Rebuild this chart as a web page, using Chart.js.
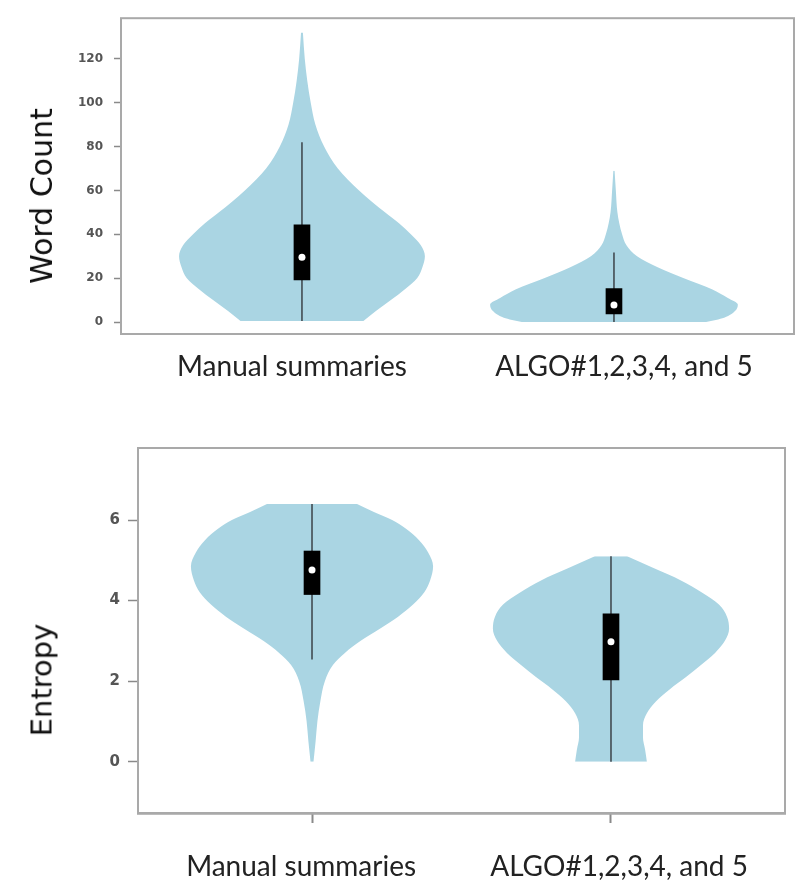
<!DOCTYPE html>
<html>
<head>
<meta charset="utf-8">
<script src="https://cdn.jsdelivr.net/npm/chart.js@4/dist/chart.umd.min.js"></script>
<style>
  body { margin: 0; background: #fff; }
  #page { position: relative; width: 805px; height: 882px; overflow: hidden; }
  .panel { position: absolute; left: 0; width: 805px; }
  #topPanel { top: 0; height: 400px; }
  #bottomPanel { top: 430px; height: 452px; }
  .ytitle {
    position: absolute;
    transform: translate(-50%, -50%) rotate(-90deg);
    font-family: 'DejaVu Sans', sans-serif;
    line-height: 1;
    color: #111;
    white-space: nowrap;
  }
</style>
</head>
<body>
<div id="page">
  <div class="panel" id="topPanel"><canvas id="wordCountChart"></canvas></div>
  <div class="panel" id="bottomPanel"><canvas id="entropyChart"></canvas></div>
  <div class="ytitle" style="left:42px; top:196px; font-size:30px;">Word Count</div>
  <div class="ytitle" style="left:42px; top:680px; font-size:29px;">Entropy</div>
</div>
<script>
const categories = ['Manual summaries', 'ALGO#1,2,3,4, and 5'];

// word count: violin outline as half-width (share of category spacing) at each level
const wcManualLevels = [0.5, 5, 10, 15, 20, 25, 30, 35, 40, 45, 50, 60, 70, 80, 90, 100, 110, 120, 132];
const wcManualHalfWidth = [0.197, 0.237, 0.285, 0.330, 0.369, 0.386, 0.394, 0.381, 0.349, 0.311, 0.266, 0.183, 0.115, 0.071, 0.043, 0.028, 0.017, 0.009, 0.003];
const wcAlgoLevels = [0, 2, 5, 8, 11, 15, 20, 25, 30, 35, 40, 45, 50, 60, 69];
const wcAlgoHalfWidth = [0.295, 0.353, 0.388, 0.397, 0.365, 0.314, 0.224, 0.140, 0.074, 0.040, 0.026, 0.017, 0.011, 0.006, 0.002];
const wcQ1 = [19.2, 3.7];
const wcQ3 = [44.3, 15.2];
const wcMedian = [29.5, 7.8];
const wcWhiskerLow = [0.5, 0];
const wcWhiskerHigh = [81.9, 31.7];
const wcTicks = [0, 20, 40, 60, 80, 100, 120];

// entropy
const enManualLevels = [0, 0.5, 1.0, 1.5, 2.0, 2.4, 2.7, 3.0, 3.3, 3.6, 3.9, 4.2, 4.5, 4.85, 5.2, 5.5, 5.8, 6.0, 6.2, 6.4];
const enManualHalfWidth = [0.005, 0.012, 0.018, 0.028, 0.043, 0.070, 0.110, 0.163, 0.227, 0.288, 0.338, 0.375, 0.395, 0.405, 0.388, 0.358, 0.311, 0.268, 0.207, 0.150];
const enAlgoLevels = [0, 0.3, 0.6, 0.9, 1.2, 1.5, 1.8, 2.1, 2.4, 2.7, 3.0, 3.3, 3.6, 3.9, 4.2, 4.5, 4.8, 5.1];
const enAlgoHalfWidth = [0.120, 0.114, 0.107, 0.107, 0.120, 0.151, 0.197, 0.251, 0.301, 0.348, 0.381, 0.395, 0.388, 0.361, 0.304, 0.234, 0.144, 0.054];
const enQ1 = [4.15, 2.03];
const enQ3 = [5.23, 3.67];
const enMedian = [4.76, 2.98];
const enWhiskerLow = [2.54, 0];
const enWhiskerHigh = [6.4, 5.1];
const enTicks = [0, 2, 4, 6];

const violinColor = '#aad5e3';
const frameColor = '#a9a9a9';

const framePlugin = {
  id: 'frame',
  afterDatasetsDraw(chart, args, opts) {
    const { ctx, chartArea: a } = chart;
    ctx.save();
    ctx.strokeStyle = opts.color || frameColor;
    ctx.lineWidth = opts.width || 2;
    ctx.strokeRect(a.left, a.top, a.right - a.left, a.bottom - a.top);
    ctx.restore();
  },
};

const buildDatasets = (violins, q1, q3, median, low, high) => {
  const sets = [];

  violins.forEach(([levels, widths], i) => {
    const c = i + 1;
    const edge = (sign) => levels.map((y, k) => ({ x: c + sign * widths[k], y }));
    const common = {
      type: 'line',
      indexAxis: 'y',
      pointRadius: 0,
      borderWidth: 0,
      borderColor: 'rgba(0,0,0,0)',
      cubicInterpolationMode: 'monotone',
      order: 4,
    };
    sets.push({ ...common, data: edge(-1), fill: false });
    sets.push({ ...common, data: edge(1), fill: '-1', backgroundColor: violinColor });
  });

  categories.forEach((_, i) => {
    sets.push({
      type: 'line',
      data: [{ x: i + 1, y: low[i] }, { x: i + 1, y: high[i] }],
      borderColor: '#3b4248',
      borderWidth: 1.5,
      pointRadius: 0,
      fill: false,
      order: 3,
    });
  });

  sets.push({
    type: 'bar',
    data: categories.map((_, i) => ({ x: i + 1, y: [q1[i], q3[i]] })),
    backgroundColor: '#000',
    borderWidth: 0,
    barThickness: 16,
    order: 2,
  });

  sets.push({
    type: 'scatter',
    data: categories.map((_, i) => ({ x: i + 1, y: median[i] })),
    pointRadius: 3.5,
    pointBackgroundColor: '#fff',
    pointBorderWidth: 0,
    showLine: false,
    order: 1,
  });

  return sets;
};

const categoryTicks = (axis) => { axis.ticks = categories.map((_, i) => ({ value: i + 1 })); };

const makeChart = (canvasId, cfg) => {
  return new Chart(document.getElementById(canvasId), {
    type: 'line',
    data: { datasets: buildDatasets(cfg.violins, cfg.q1, cfg.q3, cfg.median, cfg.low, cfg.high) },
    options: {
      responsive: true,
      maintainAspectRatio: false,
      animation: false,
      layout: { padding: cfg.padding },
      plugins: {
        legend: { display: false },
        tooltip: { enabled: false },
        frame: { color: frameColor, width: 2 },
      },
      scales: {
        x: {
          type: 'linear',
          display: cfg.xTickMarks,
          weight: 0,
          offset: false,
          min: cfg.xMin,
          max: cfg.xMax,
          afterBuildTicks: categoryTicks,
          afterFit: (axis) => { axis.height = cfg.xTickMarks ? 10 : 0; },
          border: { display: true, color: '#7a7a7a', width: 2.5 },
          grid: { offset: false, drawOnChartArea: false, drawTicks: true, tickLength: 10, tickColor: '#8a8a8a', tickWidth: 2 },
          ticks: { display: false },
        },
        // category names sit a little outside the violin centres
        xl: {
          type: 'linear',
          position: 'bottom',
          weight: 1,
          offset: false,
          min: cfg.labelMin,
          max: cfg.labelMax,
          afterBuildTicks: categoryTicks,
          afterFit: (axis) => { axis.height = cfg.labelHeight; },
          border: { display: false },
          grid: { display: false, drawTicks: false, offset: false },
          ticks: {
            autoSkip: false,
            maxRotation: 0,
            padding: cfg.labelPadding,
            color: '#222',
            font: { family: 'Lato', size: 28 },
            callback: (value, index) => categories[index],
          },
        },
        y: {
          type: 'linear',
          offset: false,
          min: cfg.yMin,
          max: cfg.yMax,
          afterBuildTicks: (axis) => { axis.ticks = cfg.yTicks.map((v) => ({ value: v })); },
          afterFit: (axis) => { axis.width = cfg.yWidth; },
          border: { display: false },
          grid: {
            offset: false,
            drawOnChartArea: false,
            drawTicks: true,
            tickLength: cfg.yTickLength,
            tickColor: '#8a8a8a',
            tickWidth: 1.5,
          },
          ticks: {
            padding: cfg.yPadding,
            color: '#555',
            font: { family: 'DejaVu Sans', size: cfg.yFontSize, weight: 'bold' },
            callback: (value) => String(value),
          },
        },
      },
    },
    plugins: [framePlugin],
  });
};

makeChart('wordCountChart', {
  violins: [[wcManualLevels, wcManualHalfWidth], [wcAlgoLevels, wcAlgoHalfWidth]],
  q1: wcQ1, q3: wcQ3, median: wcMedian, low: wcWhiskerLow, high: wcWhiskerHigh,
  yTicks: wcTicks,
  padding: { top: 9, right: 11, left: 0, bottom: 0 },
  xMin: 0.42, xMax: 2.577, xTickMarks: false,
  labelMin: 0.485, labelMax: 2.512, labelHeight: 66, labelPadding: 16,
  yMin: -5.45, yMax: 138.47,
  yWidth: 121, yTickLength: 7, yPadding: 11, yFontSize: 12,
});

makeChart('entropyChart', {
  violins: [[enManualLevels, enManualHalfWidth], [enAlgoLevels, enAlgoHalfWidth]],
  q1: enQ1, q3: enQ3, median: enMedian, low: enWhiskerLow, high: enWhiskerHigh,
  yTicks: enTicks,
  padding: { top: 18, right: 20, left: 0, bottom: 0 },
  xMin: 0.418, xMax: 2.582, xTickMarks: true,
  labelMin: 0.487, labelMax: 2.522, labelHeight: 59, labelPadding: 27,
  yMin: -1.274, yMax: 7.788,
  yWidth: 138, yTickLength: 10, yPadding: 8, yFontSize: 15,
});
</script>
</body>
</html>
